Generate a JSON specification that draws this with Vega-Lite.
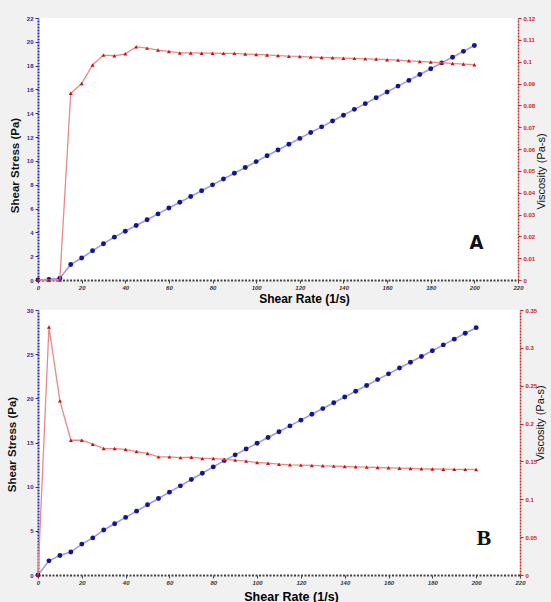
{
  "$schema": "https://vega.github.io/schema/vega-lite/v6.json",
  "background": "#f1f1f1",
  "padding": {"left": 6, "top": 15, "right": 5, "bottom": 0},
  "config": {
    "view": {"fill": "white", "stroke": null},
    "concat": {"spacing": 3},
    "font": "Liberation Sans",
    "axis": {"grid": false, "labelFont": "Liberation Sans", "titleFont": "Liberation Sans", "labelOverlap": false, "labelBound": false, "labelFlush": false}
  },
  "datasets": {
    "a": [
      {"rate": 0, "stress": 0, "visc": 0},
      {"rate": 5, "stress": 0.05, "visc": 0},
      {"rate": 10, "stress": 0.15, "visc": 0},
      {"rate": 15, "stress": 1.3, "visc": 0.0855},
      {"rate": 20, "stress": 1.85, "visc": 0.09},
      {"rate": 25, "stress": 2.45, "visc": 0.0985},
      {"rate": 30, "stress": 3.05, "visc": 0.103},
      {"rate": 35, "stress": 3.6, "visc": 0.1027},
      {"rate": 40, "stress": 4.09, "visc": 0.1036},
      {"rate": 45, "stress": 4.58, "visc": 0.1068},
      {"rate": 50, "stress": 5.06, "visc": 0.1062},
      {"rate": 55, "stress": 5.55, "visc": 0.1053},
      {"rate": 60, "stress": 6.04, "visc": 0.1047},
      {"rate": 65, "stress": 6.53, "visc": 0.104},
      {"rate": 70, "stress": 7.01, "visc": 0.104},
      {"rate": 75, "stress": 7.5, "visc": 0.1039},
      {"rate": 80, "stress": 7.99, "visc": 0.1039},
      {"rate": 85, "stress": 8.48, "visc": 0.1038},
      {"rate": 90, "stress": 8.96, "visc": 0.1038},
      {"rate": 95, "stress": 9.45, "visc": 0.1035},
      {"rate": 100, "stress": 9.94, "visc": 0.1033},
      {"rate": 105, "stress": 10.43, "visc": 0.1031},
      {"rate": 110, "stress": 10.91, "visc": 0.1028},
      {"rate": 115, "stress": 11.4, "visc": 0.1025},
      {"rate": 120, "stress": 11.89, "visc": 0.1024},
      {"rate": 125, "stress": 12.38, "visc": 0.1021},
      {"rate": 130, "stress": 12.86, "visc": 0.1019},
      {"rate": 135, "stress": 13.35, "visc": 0.1018},
      {"rate": 140, "stress": 13.84, "visc": 0.1016},
      {"rate": 145, "stress": 14.33, "visc": 0.1015},
      {"rate": 150, "stress": 14.81, "visc": 0.1013},
      {"rate": 155, "stress": 15.3, "visc": 0.1012},
      {"rate": 160, "stress": 15.79, "visc": 0.1009},
      {"rate": 165, "stress": 16.28, "visc": 0.1007},
      {"rate": 170, "stress": 16.76, "visc": 0.1004},
      {"rate": 175, "stress": 17.25, "visc": 0.1001},
      {"rate": 180, "stress": 17.74, "visc": 0.0998},
      {"rate": 185, "stress": 18.23, "visc": 0.0995},
      {"rate": 190, "stress": 18.71, "visc": 0.0992},
      {"rate": 195, "stress": 19.2, "visc": 0.0989},
      {"rate": 200, "stress": 19.69, "visc": 0.0986}
    ],
    "b": [
      {"rate": 0, "stress": 0, "visc": 0},
      {"rate": 5, "stress": 1.6, "visc": 0.3275},
      {"rate": 10, "stress": 2.2, "visc": 0.23},
      {"rate": 15, "stress": 2.6, "visc": 0.178},
      {"rate": 20, "stress": 3.5, "visc": 0.178},
      {"rate": 25, "stress": 4.2, "visc": 0.1728},
      {"rate": 30, "stress": 5.1, "visc": 0.167},
      {"rate": 35, "stress": 5.8, "visc": 0.167},
      {"rate": 40, "stress": 6.52, "visc": 0.1658},
      {"rate": 45, "stress": 7.23, "visc": 0.163},
      {"rate": 50, "stress": 7.95, "visc": 0.1605},
      {"rate": 55, "stress": 8.66, "visc": 0.156},
      {"rate": 60, "stress": 9.38, "visc": 0.156},
      {"rate": 65, "stress": 10.09, "visc": 0.155},
      {"rate": 70, "stress": 10.81, "visc": 0.1555},
      {"rate": 75, "stress": 11.52, "visc": 0.154},
      {"rate": 80, "stress": 12.24, "visc": 0.154},
      {"rate": 85, "stress": 12.95, "visc": 0.1526},
      {"rate": 90, "stress": 13.6, "visc": 0.1517},
      {"rate": 95, "stress": 14.26, "visc": 0.1504},
      {"rate": 100, "stress": 14.91, "visc": 0.1486},
      {"rate": 105, "stress": 15.57, "visc": 0.1477},
      {"rate": 110, "stress": 16.22, "visc": 0.1464},
      {"rate": 115, "stress": 16.88, "visc": 0.1455},
      {"rate": 120, "stress": 17.53, "visc": 0.1451},
      {"rate": 125, "stress": 18.19, "visc": 0.1447},
      {"rate": 130, "stress": 18.84, "visc": 0.1442},
      {"rate": 135, "stress": 19.5, "visc": 0.1438},
      {"rate": 140, "stress": 20.15, "visc": 0.1433},
      {"rate": 145, "stress": 20.81, "visc": 0.1429},
      {"rate": 150, "stress": 21.46, "visc": 0.1425},
      {"rate": 155, "stress": 22.12, "visc": 0.142},
      {"rate": 160, "stress": 22.77, "visc": 0.1416},
      {"rate": 165, "stress": 23.43, "visc": 0.1411},
      {"rate": 170, "stress": 24.08, "visc": 0.1407},
      {"rate": 175, "stress": 24.74, "visc": 0.1402},
      {"rate": 180, "stress": 25.39, "visc": 0.14},
      {"rate": 185, "stress": 26.05, "visc": 0.1398},
      {"rate": 190, "stress": 26.7, "visc": 0.1396},
      {"rate": 195, "stress": 27.36, "visc": 0.1395},
      {"rate": 200, "stress": 28.0, "visc": 0.1394}
    ],
    "labelA": [{"label": "A", "rate": 201, "stress": 3.1}],
    "labelB": [{"label": "B", "rate": 203.5, "stress": 4.2}]
  },
  "vconcat": [
    {
      "width": 480,
      "height": 262,
      "resolve": {"scale": {"y": "independent"}},
      "encoding": {
        "x": {"field": "rate", "type": "quantitative", "scale": {"domain": [0, 220], "nice": false},
          "axis": {"values": [0, 20, 40, 60, 80, 100, 120, 140, 160, 180, 200, 220], "title": "Shear Rate (1/s)",
            "titleFontSize": 12, "titleFontWeight": "bold", "titleX": 266, "titleY": 18, "titleBaseline": "middle", "titleAlign": "center",
            "domainColor": "#444", "domainWidth": 2, "domainDash": [2, 1.5], "tickColor": "#444", "tickSize": 3,
            "labelFontSize": 6, "labelFontWeight": "bold", "labelFontStyle": "italic", "labelColor": "#333", "labelPadding": 1}}
      },
      "layer": [
        {
          "encoding": {
            "y": {"field": "stress", "type": "quantitative", "scale": {"domain": [0, 22], "nice": false},
              "axis": {"values": [0, 2, 4, 6, 8, 10, 12, 14, 16, 18, 20, 22], "title": "Shear Stress (Pa)",
                "titleFontSize": 11.5, "titleFontWeight": "bold", "titleColor": "#111", "titleX": -23, "titleY": 147, "titleAngle": 270, "titleBaseline": "middle", "titleAlign": "center",
                "domainColor": "#2a2aa8", "domainWidth": 2, "domainDash": [2, 1], "tickColor": "#2a2aa8", "tickSize": 3,
                "labelFontSize": 6, "labelFontWeight": "bold", "labelColor": "#2a2aa8", "labelPadding": 2}}
          },
          "layer": [
            {
              "data": {"name": "a"},
              "mark": {"type": "line", "color": "#9c9ce0", "strokeWidth": 1.6, "point": {"filled": true, "color": "#15158c", "size": 24}}
            },
            {
              "data": {"name": "labelA"},
              "mark": {"type": "text", "font": "DejaVu Sans Condensed", "fontWeight": "bold", "fontSize": 20, "color": "#111"},
              "encoding": {"text": {"field": "label"}}
            }
          ]
        },
        {
          "data": {"name": "a"},
          "mark": {"type": "line", "color": "#e88a8a", "strokeWidth": 1.3, "point": {"filled": true, "shape": "triangle-up", "color": "#cc1111", "size": 16}},
          "encoding": {
            "y": {"field": "visc", "type": "quantitative", "scale": {"domain": [0, 0.12], "nice": false},
              "axis": {"orient": "right", "values": [0, 0.01, 0.02, 0.03, 0.04, 0.05, 0.06, 0.07, 0.08, 0.09, 0.1, 0.11, 0.12], "format": ".2~f",
                "title": "Viscosity (Pa-s)", "titleFontSize": 11, "titleFontWeight": "normal", "titleColor": "#111", "titleX": 23, "titleY": 153, "titleAngle": 270, "titleBaseline": "middle", "titleAlign": "center",
                "domainColor": "#cc2222", "domainWidth": 1.5, "domainDash": [2, 1], "tickColor": "#cc2222", "tickSize": 3,
                "labelFontSize": 6, "labelFontWeight": "bold", "labelColor": "#cc2222", "labelPadding": 2}}
          }
        }
      ]
    },
    {
      "width": 482,
      "height": 265,
      "resolve": {"scale": {"y": "independent"}},
      "encoding": {
        "x": {"field": "rate", "type": "quantitative", "scale": {"domain": [0, 220], "nice": false},
          "axis": {"values": [0, 20, 40, 60, 80, 100, 120, 140, 160, 180, 200, 220], "title": "Shear Rate (1/s)",
            "titleFontSize": 12.5, "titleFontWeight": "bold", "titleX": 253, "titleY": 21, "titleBaseline": "middle", "titleAlign": "center",
            "domainColor": "#444", "domainWidth": 2, "domainDash": [2, 1.5], "tickColor": "#444", "tickSize": 3,
            "labelFontSize": 6, "labelFontWeight": "bold", "labelFontStyle": "italic", "labelColor": "#333", "labelPadding": 1}}
      },
      "layer": [
        {
          "encoding": {
            "y": {"field": "stress", "type": "quantitative", "scale": {"domain": [0, 30], "nice": false},
              "axis": {"values": [0, 5, 10, 15, 20, 25, 30], "title": "Shear Stress (Pa)",
                "titleFontSize": 11.5, "titleFontWeight": "bold", "titleColor": "#111", "titleX": -26, "titleY": 134, "titleAngle": 270, "titleBaseline": "middle", "titleAlign": "center",
                "domainColor": "#2a2aa8", "domainWidth": 2, "domainDash": [2, 1], "tickColor": "#2a2aa8", "tickSize": 3,
                "labelFontSize": 6, "labelFontWeight": "bold", "labelColor": "#2a2aa8", "labelPadding": 2}}
          },
          "layer": [
            {
              "data": {"name": "b"},
              "mark": {"type": "line", "color": "#9c9ce0", "strokeWidth": 1.6, "point": {"filled": true, "color": "#15158c", "size": 24}}
            },
            {
              "data": {"name": "labelB"},
              "mark": {"type": "text", "font": "Liberation Serif", "fontWeight": "bold", "fontSize": 22, "color": "#111"},
              "encoding": {"text": {"field": "label"}}
            }
          ]
        },
        {
          "data": {"name": "b"},
          "mark": {"type": "line", "color": "#e88a8a", "strokeWidth": 1.3, "point": {"filled": true, "shape": "triangle-up", "color": "#cc1111", "size": 16}},
          "encoding": {
            "y": {"field": "visc", "type": "quantitative", "scale": {"domain": [0, 0.35], "nice": false},
              "axis": {"orient": "right", "values": [0, 0.05, 0.1, 0.15, 0.2, 0.25, 0.3, 0.35], "format": ".2~f",
                "title": "Viscosity (Pa-s)", "titleFontSize": 11, "titleFontWeight": "normal", "titleColor": "#111", "titleX": 20, "titleY": 113, "titleAngle": 270, "titleBaseline": "middle", "titleAlign": "center",
                "domainColor": "#cc2222", "domainWidth": 1.5, "domainDash": [2, 1], "tickColor": "#cc2222", "tickSize": 3,
                "labelFontSize": 6, "labelFontWeight": "bold", "labelColor": "#cc2222", "labelPadding": 2}}
          }
        }
      ]
    }
  ]
}
